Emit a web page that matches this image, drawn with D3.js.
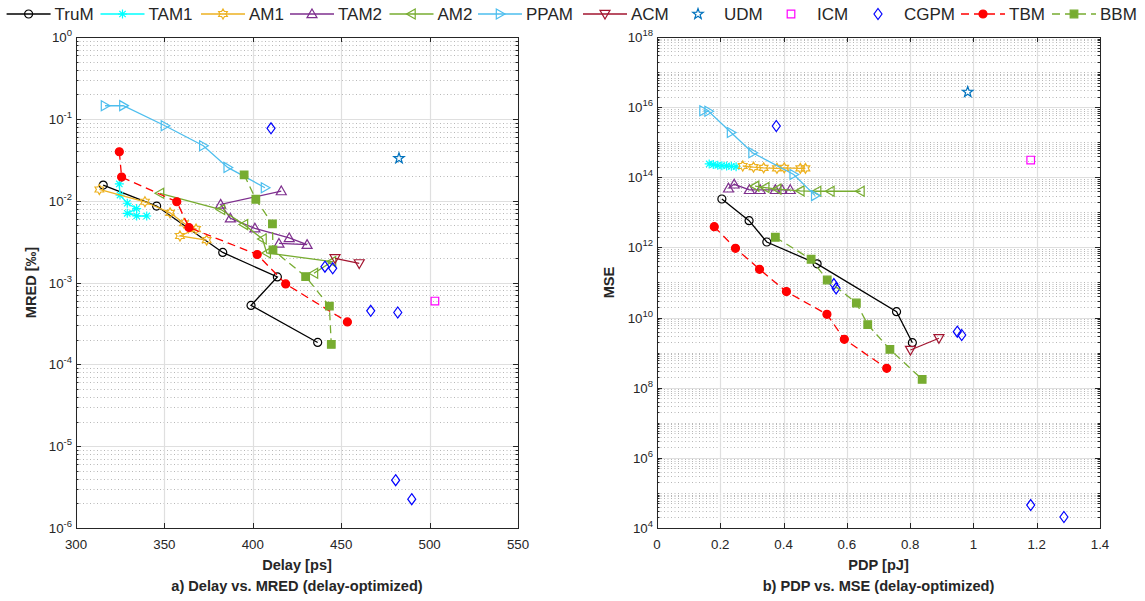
<!DOCTYPE html>
<html>
<head>
<meta charset="utf-8">
<script src="https://cdn.jsdelivr.net/npm/d3@7"></script>
<style>
  body { margin: 0; background: #fff; }
  text { font-family: "Liberation Sans", Arial, Helvetica, sans-serif; fill: #262626; }
</style>
</head>
<body>
<div id="chart"></div>
<script>
// ---- data: panel a) [delay ps, MRED], panel b) [PDP pJ, MSE] ----
const TruM_a = [[315.4,0.0155],[345.6,0.0086],[383,0.00233],[413.9,0.00117],[399,0.000525],[436.7,0.000185]];
const TAM1_a = [[324.5,0.0160],[324.9,0.0117],[329,0.0093],[334.3,0.0080],[329,0.0070],[334.3,0.0065],[340,0.0065]];
const AM1_a  = [[313.2,0.0137],[339,0.0097],[353.2,0.0071],[361.1,0.0053],[367.9,0.0045],[358.8,0.0037],[373.9,0.0033]];
const TAM2_a = [[416.1,0.0131],[381.8,0.0090],[387.3,0.0061],[401.2,0.0046],[420.6,0.0035],[430.7,0.0029],[414.8,0.0030]];
const AM2_a  = [[347.5,0.0123],[382,0.0078],[395,0.0051],[405.5,0.0034],[407.9,0.0023],[444.8,0.0018],[434.6,0.0013]];
const PPAM_a = [[316.4,0.1445],[326.8,0.145],[350.3,0.0824],[372,0.0469],[385.8,0.0255],[406.9,0.0144]];
const ACM_a  = [[446.5,0.00197],[460.2,0.00171]];
const UDM_a  = [[482.7,0.0329]];
const ICM_a  = [[503,0.000593]];
const CGPM_a = [[410.3,0.0765],[440.8,0.00156],[445.2,0.00149],[466.7,0.000451],[482,0.00043],[480.8,3.84e-6],[489.9,2.25e-6]];
const TBM_a  = [[324.5,0.0396],[325.8,0.0194],[357,0.0097],[363.9,0.0047],[402.5,0.0022],[418.6,0.00096],[453.5,0.00033]];
const BBM_a  = [[395.1,0.0207],[401.7,0.0104],[411.1,0.0052],[411.4,0.0025],[429.9,0.00118],[443.3,0.000515],[444.4,0.000175]];

const TruM_b = [[0.205,2.4e13],[0.291,5.8e12],[0.347,1.43e12],[0.506,3.4e11],[0.757,1.47e10],[0.807,1.92e9]];
const TAM1_b = [[0.165,2.4e14],[0.178,2.3e14],[0.192,2.2e14],[0.205,2.15e14],[0.22,2.1e14],[0.235,2.05e14],[0.25,2.0e14]];
const AM1_b  = [[0.271,2.1e14],[0.305,1.95e14],[0.337,1.85e14],[0.379,1.8e14],[0.402,1.85e14],[0.453,1.8e14],[0.469,1.8e14]];
const TAM2_b = [[0.226,4.85e13],[0.244,6.3e13],[0.292,4.4e13],[0.326,4.4e13],[0.374,4.4e13],[0.395,4.4e13],[0.421,4.4e13]];
const AM2_b  = [[0.31,5.6e13],[0.342,5.1e13],[0.38,4.6e13],[0.453,4.1e13],[0.506,4.0e13],[0.548,4.0e13],[0.643,4.0e13]];
const PPAM_b = [[0.147,7.9e15],[0.163,7.6e15],[0.234,1.9e15],[0.302,5.0e14],[0.432,1.2e14],[0.5,3.0e13]];
const ACM_b  = [[0.801,1.19e9],[0.891,2.57e9]];
const UDM_b  = [[0.982,2.7e16]];
const ICM_b  = [[1.181,3.1e14]];
const CGPM_b = [[0.377,2.9e15],[0.559,9.0e10],[0.566,6.8e10],[0.949,3.95e9],[0.963,3.18e9],[1.181,4.5e4],[1.286,2.06e4]];
const TBM_b  = [[0.181,3.9e12],[0.248,9.4e11],[0.324,2.38e11],[0.409,5.5e10],[0.537,1.24e10],[0.592,2.4e9],[0.726,3.57e8]];
const BBM_b  = [[0.374,1.95e12],[0.487,4.6e11],[0.538,1.18e11],[0.630,2.6e10],[0.666,6.3e9],[0.736,1.24e9],[0.838,1.73e8]];

// ticks
const delayTicks = [300, 350, 400, 450, 500, 550];
const pdpTicks = [0, 0.2, 0.4, 0.6, 0.8, 1, 1.2, 1.4];
const mredExps = [-6, -5, -4, -3, -2, -1, 0];
const mseExps = [4, 6, 8, 10, 12, 14, 16, 18];

// ---- styles ----
const series = [
  {name: 'TruM', a: TruM_a, b: TruM_b, color: '#000000', mk: 'o', dash: null, fill: false, lx: 6.6},
  {name: 'TAM1', a: TAM1_a, b: TAM1_b, color: '#00FFFF', mk: '*', dash: null, fill: false, lx: 100.5},
  {name: 'AM1',  a: AM1_a,  b: AM1_b,  color: '#EDB120', mk: 'h', dash: null, fill: false, lx: 201},
  {name: 'TAM2', a: TAM2_a, b: TAM2_b, color: '#7E2F8E', mk: '^', dash: null, fill: false, lx: 290},
  {name: 'AM2',  a: AM2_a,  b: AM2_b,  color: '#77AC30', mk: '<', dash: null, fill: false, lx: 389.5},
  {name: 'PPAM', a: PPAM_a, b: PPAM_b, color: '#4DBEEE', mk: '>', dash: null, fill: false, lx: 478},
  {name: 'ACM',  a: ACM_a,  b: ACM_b,  color: '#A2142F', mk: 'v', dash: null, fill: false, lx: 583},
  {name: 'UDM',  a: UDM_a,  b: UDM_b,  color: '#0072BD', mk: 'p', dash: 'none', fill: false, lx: 676},
  {name: 'ICM',  a: ICM_a,  b: ICM_b,  color: '#FF00FF', mk: 's', dash: 'none', fill: false, lx: 769},
  {name: 'CGPM', a: CGPM_a, b: CGPM_b, color: '#0000FF', mk: 'd', dash: 'none', fill: false, lx: 856},
  {name: 'TBM',  a: TBM_a,  b: TBM_b,  color: '#FF0000', mk: 'o', dash: '8,5', fill: true, lx: 961},
  {name: 'BBM',  a: BBM_a,  b: BBM_b,  color: '#77AC30', mk: 's', dash: '8,5', fill: true, lx: 1052}
];

function starPath(n, ro, ri) {
  const pts = d3.range(2 * n).map(i => {
    const ang = -Math.PI / 2 + i * Math.PI / n;
    const r = i % 2 ? ri : ro;
    return [r * Math.cos(ang), r * Math.sin(ang)];
  });
  return 'M' + pts.map(p => p[0].toFixed(2) + ',' + p[1].toFixed(2)).join('L') + 'Z';
}

function markerPath(mk) {
  switch (mk) {
    case 'o': return 'M-4,0a4,4 0 1,0 8,0a4,4 0 1,0 -8,0Z';
    case 's': return 'M-3.8,-3.8H3.8V3.8H-3.8Z';
    case 'd': return 'M0,-5.5L4,0L0,5.5L-4,0Z';
    case '^': return 'M0,-5L5,3.7L-5,3.7Z';
    case 'v': return 'M0,5L5,-3.7L-5,-3.7Z';
    case '<': return 'M-5,0L3.7,-5L3.7,5Z';
    case '>': return 'M5,0L-3.7,-5L-3.7,5Z';
    case 'p': return starPath(5, 5.5, 2.2);
    case 'h': return starPath(6, 5, 2.9);
    case '*': return 'M-4.5,0H4.5M0,-4.5V4.5M-3.2,-3.2L3.2,3.2M-3.2,3.2L3.2,-3.2';
  }
}

const W = 1145, H = 601;
const svg = d3.select('#chart').append('svg').attr('width', W).attr('height', H);

const panels = [
  {key: 'a', x0: 76, x1: 518, y0: 37, y1: 528, xDomain: [300, 550], yDomain: [1e-6, 1],
   xTicks: delayTicks, xFmt: d => String(d), yExps: mredExps, allDecades: mredExps,
   xlabel: 'Delay [ps]', ylabel: 'MRED [‰]', title: 'a) Delay vs. MRED (delay-optimized)', ylabX: 36},
  {key: 'b', x0: 657, x1: 1100, y0: 37, y1: 528, xDomain: [0, 1.4], yDomain: [1e4, 1e18],
   xTicks: pdpTicks, xFmt: d => String(d), yExps: mseExps, allDecades: d3.range(4, 19),
   xlabel: 'PDP [pJ]', ylabel: 'MSE', title: 'b) PDP vs. MSE (delay-optimized)', ylabX: 614}
];

panels.forEach(p => {
  const x = d3.scaleLinear().domain(p.xDomain).range([p.x0, p.x1]);
  const y = d3.scaleLog().domain(p.yDomain).range([p.y1, p.y0]);
  const g = svg.append('g');

  // minor y values: 2..9 x 10^k, plus unlabeled decades
  const lo = Math.log10(p.yDomain[0]), hi = Math.log10(p.yDomain[1]);
  const yMinor = [];
  for (let k = lo; k < hi; k++) {
    for (let m = 2; m <= 9; m++) yMinor.push(m * Math.pow(10, k));
  }
  p.allDecades.forEach(k => { if (!p.yExps.includes(k)) yMinor.push(Math.pow(10, k)); });

  // grid
  g.append('g').selectAll('line').data(yMinor).join('line')
    .attr('x1', p.x0).attr('x2', p.x1)
    .attr('y1', d => Math.round(y(d)) + 0.5).attr('y2', d => Math.round(y(d)) + 0.5)
    .attr('stroke', '#b8b8b8').attr('stroke-width', 1).attr('stroke-dasharray', '1,2.5');
  g.append('g').selectAll('line').data(p.yExps).join('line')
    .attr('x1', p.x0).attr('x2', p.x1)
    .attr('y1', d => Math.round(y(Math.pow(10, d))) + 0.5).attr('y2', d => Math.round(y(Math.pow(10, d))) + 0.5)
    .attr('stroke', '#dfdfdf').attr('stroke-width', 1.2);
  g.append('g').selectAll('line').data(p.xTicks).join('line')
    .attr('x1', d => Math.round(x(d)) + 0.5).attr('x2', d => Math.round(x(d)) + 0.5)
    .attr('y1', p.y0).attr('y2', p.y1)
    .attr('stroke', '#dfdfdf').attr('stroke-width', 1.2);

  // axes box
  g.append('rect').attr('x', p.x0 + 0.5).attr('y', p.y0 + 0.5)
    .attr('width', p.x1 - p.x0).attr('height', p.y1 - p.y0)
    .attr('fill', 'none').attr('stroke', '#262626').attr('stroke-width', 1);

  // ticks (inward, both sides)
  const tk = g.append('g').attr('stroke', '#262626').attr('stroke-width', 1);
  p.xTicks.forEach(d => {
    const xx = Math.round(x(d)) + 0.5;
    tk.append('line').attr('x1', xx).attr('x2', xx).attr('y1', p.y1).attr('y2', p.y1 - 5);
    tk.append('line').attr('x1', xx).attr('x2', xx).attr('y1', p.y0).attr('y2', p.y0 + 5);
  });
  p.yExps.forEach(k => {
    const yy = Math.round(y(Math.pow(10, k))) + 0.5;
    tk.append('line').attr('x1', p.x0).attr('x2', p.x0 + 5).attr('y1', yy).attr('y2', yy);
    tk.append('line').attr('x1', p.x1).attr('x2', p.x1 - 5).attr('y1', yy).attr('y2', yy);
  });
  yMinor.forEach(v => {
    const yy = Math.round(y(v)) + 0.5;
    tk.append('line').attr('x1', p.x0).attr('x2', p.x0 + 2.5).attr('y1', yy).attr('y2', yy);
    tk.append('line').attr('x1', p.x1).attr('x2', p.x1 - 2.5).attr('y1', yy).attr('y2', yy);
  });

  // tick labels
  g.append('g').selectAll('text').data(p.xTicks).join('text')
    .attr('x', d => x(d)).attr('y', p.y1 + 21)
    .attr('text-anchor', 'middle').attr('font-size', 13.3)
    .text(p.xFmt);
  const yl = g.append('g').selectAll('text').data(p.yExps).join('text')
    .attr('x', p.x0 - 4).attr('y', d => y(Math.pow(10, d)) + 5)
    .attr('text-anchor', 'end').attr('font-size', 13.3);
  yl.append('tspan').text('10');
  yl.append('tspan').attr('dy', -6).attr('font-size', 9.5).text(d => String(d));

  // labels
  g.append('text').attr('x', (p.x0 + p.x1) / 2).attr('y', p.y1 + 42)
    .attr('text-anchor', 'middle').attr('font-size', 14.6).attr('font-weight', 'bold')
    .text(p.xlabel);
  g.append('text').attr('x', (p.x0 + p.x1) / 2).attr('y', p.y1 + 63)
    .attr('text-anchor', 'middle').attr('font-size', 14.6).attr('font-weight', 'bold')
    .text(p.title);
  g.append('text')
    .attr('transform', `translate(${p.ylabX},${(p.y0 + p.y1) / 2}) rotate(-90)`)
    .attr('text-anchor', 'middle').attr('font-size', 14.6).attr('font-weight', 'bold')
    .text(p.ylabel);

  // series
  const clipId = 'clip-' + p.key;
  svg.append('clipPath').attr('id', clipId).append('rect')
    .attr('x', p.x0).attr('y', p.y0).attr('width', p.x1 - p.x0).attr('height', p.y1 - p.y0);
  const plot = g.append('g').attr('clip-path', `url(#${clipId})`);
  const line = d3.line().x(d => x(d[0])).y(d => y(d[1]));

  series.forEach(s => {
    const data = s[p.key];
    const sg = plot.append('g');
    if (s.dash !== 'none') {
      sg.append('path').datum(data).attr('d', line)
        .attr('fill', 'none').attr('stroke', s.color).attr('stroke-width', 1.3)
        .attr('stroke-dasharray', s.dash);
    }
    sg.selectAll('path.mk').data(data).join('path').attr('class', 'mk')
      .attr('transform', d => `translate(${x(d[0])},${y(d[1])})`)
      .attr('d', markerPath(s.mk))
      .attr('fill', s.fill ? s.color : 'none')
      .attr('stroke', s.color).attr('stroke-width', 1.2);
  });
});

// legend across the top
const leg = svg.append('g');
const ly = 14;
series.forEach(s => {
  const it = leg.append('g');
  if (s.dash !== 'none') {
    it.append('line').attr('x1', s.lx).attr('x2', s.lx + 44).attr('y1', ly).attr('y2', ly)
      .attr('stroke', s.color).attr('stroke-width', 1.3).attr('stroke-dasharray', s.dash);
  }
  it.append('path').attr('transform', `translate(${s.lx + 22},${ly})`)
    .attr('d', markerPath(s.mk))
    .attr('fill', s.fill ? s.color : 'none')
    .attr('stroke', s.color).attr('stroke-width', 1.2);
  it.append('text').attr('x', s.lx + 48).attr('y', ly + 6).attr('font-size', 17).attr('fill', '#000')
    .text(s.name);
});
</script>
</body>
</html>
